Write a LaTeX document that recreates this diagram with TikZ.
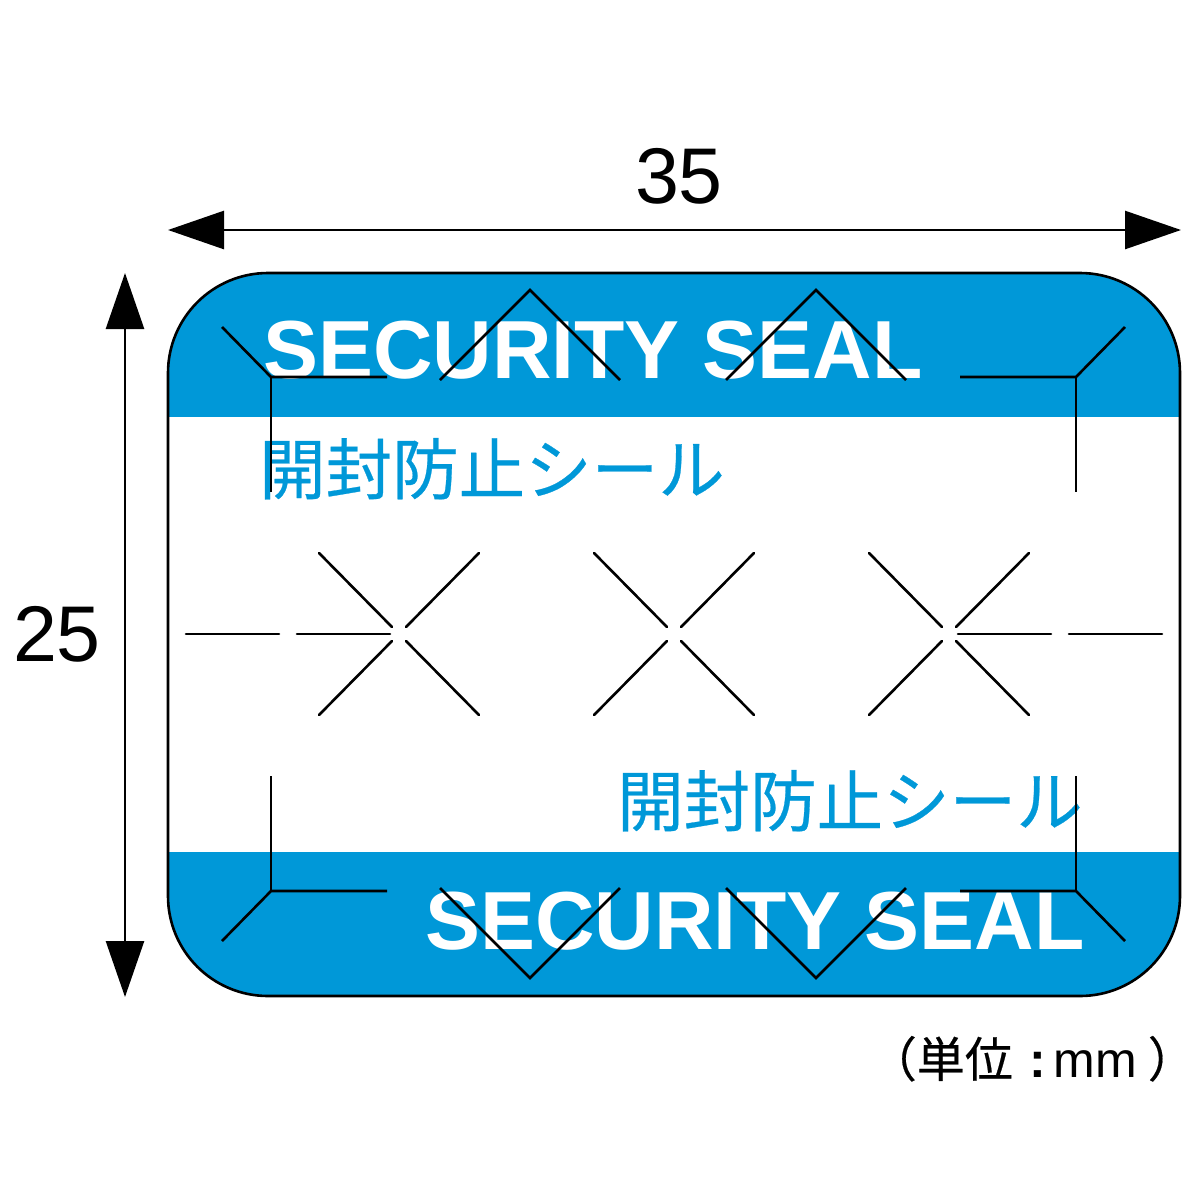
\documentclass[tikz,border=0pt]{standalone}
\usepackage{fontspec}
\setmainfont{Liberation Sans}
\newfontfamily\jpfont[FakeBold=0.4]{Noto Sans CJK JP}
\usetikzlibrary{arrows.meta}
\definecolor{sealblue}{RGB}{0,152,216}
\tikzset{
    sealtitle/.style={anchor=base west, inner sep=0pt, text=white, font=\fontsize{82.4}{82.4}\selectfont\bfseries},
    sealjp/.style={anchor=base west, inner sep=0pt, text=sealblue, font=\jpfont\fontsize{66.5}{66.5}\selectfont},
    dimtext/.style={inner sep=0pt, font=\fontsize{79}{79}\selectfont},
    dimline/.style={line width=2.6pt, {Triangle[length=56pt,width=38pt]}-{Triangle[length=56pt,width=38pt]}},
    foldline/.style={line width=2.6pt, line join=miter},
    cutline/.style={line width=2.6pt, line cap=round}
}
\begin{document}
\begin{tikzpicture}[x=1pt, y=-1pt]
    \useasboundingbox (0,0) rectangle (1200,1200);

    % label and bands
    \begin{scope}
        \clip[rounded corners=100pt] (168,273) rectangle (1180,996);
        \fill[sealblue] (168,273) rectangle (1180,417);
        \fill[sealblue] (168,852) rectangle (1180,996);
    \end{scope}

    % texts
    \node[sealtitle] (titletop) at (263,378) {SECURITY SEAL};
    \node[sealtitle] (titlebottom) at (425,949) {SECURITY SEAL};
    \node[sealjp] (jptop) at (259,494) {開封防止シール};
    \node[sealjp] (jpbottom) at (617,826) {開封防止シール};

    % outline
    \draw[line width=2.6pt, rounded corners=100pt] (168,273) rectangle (1180,996);

    % corner folds
    \draw[foldline] (222,327) -- (271,377) -- (387,377);
    \draw[foldline] (271,377) -- (271,492);
    \draw[foldline] (1125,327) -- (1076,377) -- (960,377);
    \draw[foldline] (1076,377) -- (1076,492);
    \draw[foldline] (222,941) -- (271,891) -- (387,891);
    \draw[foldline] (271,891) -- (271,776);
    \draw[foldline] (1125,941) -- (1076,891) -- (960,891);
    \draw[foldline] (1076,891) -- (1076,776);

    % peaks
    \foreach \px in {530,816} {
        \draw[foldline] (\px-90,380) -- (\px,290) -- (\px+90,380);
        \draw[foldline] (\px-90,888) -- (\px,978) -- (\px+90,888);
    }

    % crosses
    \foreach \cx in {399,674,949} {
        \draw[cutline] (\cx-7,627) -- (\cx-80,553);
        \draw[cutline] (\cx+7,627) -- (\cx+80,553);
        \draw[cutline] (\cx-7,641) -- (\cx-80,715);
        \draw[cutline] (\cx+7,641) -- (\cx+80,715);
    }
    \draw[cutline] (186,634) -- (279,634);
    \draw[cutline] (297,634) -- (390,634);
    \draw[cutline] (958,634) -- (1051,634);
    \draw[cutline] (1069,634) -- (1162,634);

    % dimensions
    \coordinate (wleft) at (168,230);
    \coordinate (wright) at (1181,230);
    \coordinate (htop) at (125,273);
    \coordinate (hbottom) at (125,997);
    \draw[dimline] (wleft) -- (wright);
    \draw[dimline] (htop) -- (hbottom);
    \node[dimtext] (widthlabel) at (679,176) {35};
    \node[dimtext] (heightlabel) at (57,634) {25};

    \node[anchor=base east, inner sep=0pt, font=\fontsize{50}{50}\selectfont] (unitlabel) at (1196,1077) {{\jpfont\fontsize{48}{48}\selectfont （単位}\hspace{17pt}{\bfseries :}\hspace{7pt}mm\hspace{11pt}{\jpfont\fontsize{48}{48}\selectfont ）}};
\end{tikzpicture}
\end{document}
